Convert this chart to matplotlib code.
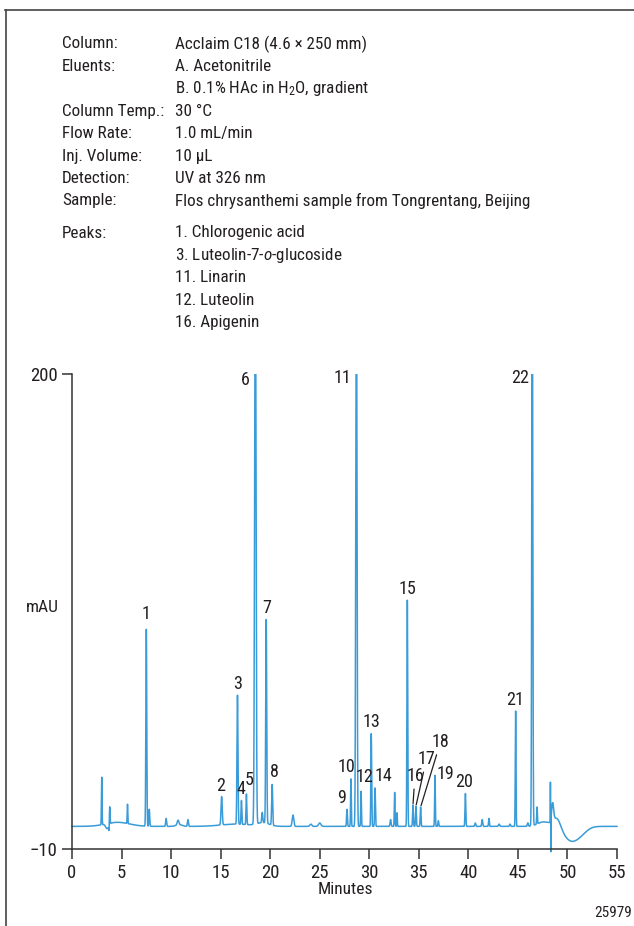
import numpy as np
import matplotlib
matplotlib.use('Agg')
import matplotlib.pyplot as plt
from matplotlib.patches import Rectangle
from matplotlib.lines import Line2D

FONT = ['Roboto Condensed', 'Liberation Sans', 'DejaVu Sans']
plt.rcParams['font.family'] = FONT
plt.rcParams['mathtext.fontset'] = 'custom'
plt.rcParams['mathtext.rm'] = 'Roboto Condensed'
plt.rcParams['mathtext.it'] = 'Roboto Condensed:italic'

# conditions text
cond_keys = ['Column:', 'Eluents:', '', 'Column Temp.:', 'Flow Rate:', 'Inj. Volume:',
             'Detection:', 'Sample:']
cond_vals = ['Acclaim C18 (4.6 \u00d7 250 mm)', 'A. Acetonitrile',
             'B. 0.1% HAc in H$_\\mathregular{2}$O, gradient', '30 \u00b0C', '1.0 mL/min',
             '10 \u00b5L', 'UV at 326 nm', 'Flos chrysanthemi sample from Tongrentang, Beijing']
peak_names = ['1. Chlorogenic acid', '3. Luteolin-7-$\\mathit{o}$-glucoside', '11. Linarin',
              '12. Luteolin', '16. Apigenin']

# peaks: retention time (min), height (mAU), sigma (min)
peak_t = [3.0, 3.8, 5.6, 7.5, 7.8, 9.5, 10.7, 11.7, 15.1, 16.7, 17.1, 17.6, 18.5, 19.2,
          19.6, 20.2, 22.3, 24.1, 25.0, 27.75, 28.15, 28.7, 29.17, 30.2, 30.58, 32.15,
          32.56, 32.8, 33.84, 34.41, 34.71, 35.18, 36.63, 36.97, 39.7, 40.7, 41.4, 42.08,
          43.1, 44.2, 44.77, 46.0, 46.45, 46.93, 48.28, 48.33, 48.5, 48.95]
peak_h = [21, 9, 8.5, 87, 7.5, 3.5, 2, 3, 12.5, 57, 10.5, 13.5, 260, 4.5,
          90, 18, 5, 1, 1.5, 7.5, 21, 260, 15.5, 41, 17, 3,
          15, 6, 100, 9.5, 9, 8.5, 22.5, 2.5, 14.5, 1.5, 3, 3.5,
          1, 1, 51, 1.5, 260, 7.5, 17, -15, 8, 4.5]
peak_w = [0.03, 0.03, 0.03, 0.045, 0.04, 0.05, 0.08, 0.05, 0.06, 0.05, 0.04, 0.04, 0.07, 0.05,
          0.05, 0.05, 0.08, 0.1, 0.12, 0.04, 0.035, 0.06, 0.035, 0.04, 0.04, 0.05,
          0.035, 0.03, 0.04, 0.04, 0.04, 0.04, 0.035, 0.04, 0.04, 0.05, 0.05, 0.04,
          0.06, 0.05, 0.035, 0.05, 0.05, 0.035, 0.012, 0.012, 0.1, 0.38]

# slow baseline features: centre (min), height (mAU), sigma (min)
drift_t = [3.55, 3.75, 4.6, 10.8, 16.5, 19.3, 47.6, 50.4, 51.5]
drift_h = [-2.2, -3.0, 1.8, 0.8, 1.0, 1.5, 2.0, -6.3, -1.5]
drift_w = [0.15, 0.04, 1.2, 0.3, 1.5, 0.6, 0.6, 0.8, 0.6]

# labelled peaks: label, retention time
lab_names = ['1', '2', '3', '4', '5', '6', '7', '8', '9', '10', '11', '12', '13', '14', '15',
             '16', '17', '18', '19', '20', '21', '22']
lab_t = [7.5, 15.1, 16.7, 17.1, 17.6, 18.5, 19.6, 20.2, 27.75, 28.15, 28.7, 29.17, 30.2,
         30.58, 33.84, 34.41, 34.71, 35.18, 36.63, 39.7, 44.77, 46.45]

t = np.arange(0, 55.0001, 0.005)
sig = np.zeros_like(t)
for c, h, w in zip(drift_t + peak_t, drift_h + peak_h, drift_w + peak_w):
    sig += h * np.exp(-0.5 * ((t - c) / w) ** 2)

fig = plt.figure(figsize=(6.34, 9.26), dpi=100)
W, H = 634, 926
TXT = '#231f20'

# frame lines (top and left)
fig.add_artist(Line2D([5 / W, 1], [1 - 9.5 / H, 1 - 9.5 / H], color='#444444', lw=1.2))
fig.add_artist(Line2D([6 / W, 6 / W], [0, 1 - 9.5 / H], color='#444444', lw=1.2))

fs = 12.3
y0 = 44
for i, (k, v) in enumerate(zip(cond_keys, cond_vals)):
    y = y0 + i * 22.4
    fig.text(62 / W, 1 - y / H, k, fontsize=fs, va='center', color=TXT)
    fig.text(175 / W, 1 - y / H, v, fontsize=fs, va='center', color=TXT)
y0 = 233
for i, v in enumerate(peak_names):
    y = y0 + i * 22.4
    if i == 0:
        fig.text(62 / W, 1 - y / H, 'Peaks:', fontsize=fs, va='center', color=TXT)
    fig.text(175 / W, 1 - y / H, v, fontsize=fs, va='center', color=TXT)

ax = fig.add_axes([72 / W, 77 / H, 545 / W, 475 / H])
ax.set_xlim(0, 55)
ax.set_ylim(-10, 200)
line, = ax.plot(t, sig, color='#3a9bd9', lw=1.1)
line.set_clip_path(Rectangle((-1, -14), 57, 214, transform=ax.transData))

for s in ['top', 'right']:
    ax.spines[s].set_visible(False)
for s in ['left', 'bottom']:
    ax.spines[s].set_color('#333333')
    ax.spines[s].set_linewidth(1.1)
ax.set_xticks(np.arange(0, 56, 5))
ax.set_yticks([-10, 200])
ax.tick_params(direction='out', length=7, width=1.1, color='#333333', labelsize=13.5,
               labelcolor=TXT)
ax.tick_params(axis='x', pad=3.5)
ax.tick_params(axis='y', pad=3.5)

# label offsets from apex (pixels: dx, up)
offs = {'1': (0, 15), '2': (-1.5, 11), '3': (0, 11.5), '4': (-1, 12), '5': (3, 14),
        '6': (-10, -6), '7': (0.5, 12), '8': (2.5, 12), '9': (-5, 11), '10': (-5, 11.5),
        '11': (-14, -4.5), '12': (3, 14.5), '13': (0, 11.5), '14': (8.5, 11.5),
        '15': (0, 11.5), '16': (2, 29), '17': (10.5, 47), '18': (20, 65.5),
        '19': (10.5, 1), '20': (-1, 11.5), '21': (-0.5, 11.5), '22': (-12, -4.5)}
leader = ['16', '17', '18']
for name, tp in zip(lab_names, lab_t):
    i = np.argmin(np.abs(t - tp))
    yv = min(sig[max(i - 20, 0):i + 20].max(), 200)
    dx, dy = offs[name]
    kw = {}
    if name in leader:
        kw['arrowprops'] = dict(arrowstyle='-', color=TXT, lw=0.9, shrinkA=1, shrinkB=1)
    ax.annotate(name, xy=(tp, yv), xytext=(dx * 0.72, dy * 0.72), textcoords='offset points',
                ha='center', va='center', fontsize=13, color=TXT, **kw)

fig.text(42 / W, 1 - 607 / H, 'mAU', fontsize=12.5, ha='center', va='center', color=TXT)
fig.text(345 / W, 1 - 889 / H, 'Minutes', fontsize=12.5, ha='center', va='center', color=TXT)
fig.text(632 / W, 1 - 913 / H, '25979', fontsize=11, ha='right', va='center', color=TXT)

fig.savefig('out.png', dpi=100)
